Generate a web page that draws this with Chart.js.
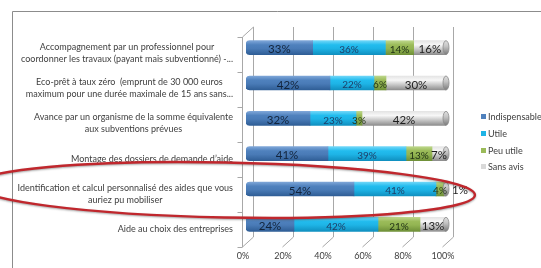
<!DOCTYPE html>
<html><head><meta charset="utf-8">
<script src="https://cdn.jsdelivr.net/npm/chart.js@4"></script>
<style>html,body{margin:0;padding:0;background:#fff;}canvas{display:block}</style>
</head><body>
<canvas id="c" width="541" height="268"></canvas>
<script>
const categories = [
  ["Accompagnement par un professionnel pour", "coordonner les travaux (payant mais subventionné) -..."],
  ["Eco-prêt à taux zéro  (emprunt de 30 000 euros", "maximum pour une durée maximale de 15 ans sans..."],
  ["Avance par un organisme de la somme équivalente", "aux subventions prévues"],
  ["Montage des dossiers de demande d’aide"],
  ["Identification et calcul personnalisé des aides que vous", "auriez pu mobiliser"],
  ["Aide au choix des entreprises"]
];
const seriesNames = ["Indispensable", "Utile", "Peu utile", "Sans avis"];
const indispensable = [33, 42, 32, 41, 54, 24];
const utile = [36, 22, 23, 39, 41, 42];
const peuUtile = [14, 6, 3, 13, 4, 21];
const sansAvis = [16, 30, 42, 7, 1, 13];
const xTicks = [0, 20, 40, 60, 80, 100];

const raw = [indispensable, utile, peuUtile, sansAvis];
// 100% stacked: normalise each row
const totals = categories.map((_, i) => raw.reduce((s, a) => s + a[i], 0));
const norm = raw.map(a => a.map((v, i) => v / totals[i] * 100));

const palettes = [
  ['#7ea6d8', '#4f81bd', '#4a7bb7', '#2f5e96'],
  ['#6fd6f8', '#22bcee', '#1eb4e6', '#1090c0'],
  ['#bcd68a', '#9bbb59', '#93b552', '#6f9038'],
  ['#e4e4e4', '#f7f7f7', '#d2d2d2', '#8e8e8e']
];
const legendColors = ['#4f81bd', '#1eb4e6', '#9bbb59', '#d9d9d9'];
const labelColors = ['#12243c', '#1d3f68', '#233416', '#1e1e1e'];
const labelSizes = [11.5, 10, 10, 11.5];
const FONT = 'Lato';

function makeGrad(ctx, k) {
  const p = palettes[k];
  const c = ctx.chart;
  const ys = c.scales && c.scales.y;
  if (!ys || ctx.type !== 'data' || ys.top === undefined) return p[2];
  const yc = ys.getPixelForValue(ctx.dataIndex);
  const g = c.ctx.createLinearGradient(0, yc - 7, 0, yc + 7);
  g.addColorStop(0, p[0]);
  g.addColorStop(0.3, p[1]);
  g.addColorStop(0.55, p[2]);
  g.addColorStop(1, p[3]);
  return g;
}

const datasets = seriesNames.map((name, k) => ({
  label: name,
  data: norm[k],
  backgroundColor: ctx => makeGrad(ctx, k),
  borderWidth: 0,
  borderSkipped: false,
  borderRadius: k === 0 ? {topLeft: 4, bottomLeft: 4, topRight: 0, bottomRight: 0} : 0,
  barThickness: 14
}));

const frame = {
  id: 'frame',
  beforeDraw(chart) {
    const c = chart.ctx;
    c.save();
    c.fillStyle = '#fff';
    c.fillRect(0, 0, chart.width, chart.height);
    c.strokeStyle = '#8c8c8c';
    c.lineWidth = 1;
    c.beginPath();
    c.moveTo(12.5, chart.height + 2);
    c.lineTo(12.5, 11.5);
    c.lineTo(chart.width + 2, 11.5);
    c.stroke();
    c.restore();
  },
  beforeDatasetsDraw(chart) {
    const c = chart.ctx, xs = chart.scales.x, a = chart.chartArea;
    const backTop = a.top - 3, backBot = a.bottom - 5, frontBot = a.bottom + 5;
    c.save();
    c.strokeStyle = '#a8a8a8';
    c.lineWidth = 1;
    c.beginPath();
    xTicks.forEach(v => {
      const bx = Math.round(xs.getPixelForValue(v) + 7) + 0.5;
      const fx = Math.round(xs.getPixelForValue(v) - 4) + 0.5;
      c.moveTo(bx, backTop); c.lineTo(bx, backBot);
      c.lineTo(fx, frontBot);
    });
    // left wall
    const lx = Math.round(xs.getPixelForValue(0) - 4) + 0.5;
    const topFront = a.top + 7;
    c.moveTo(lx, frontBot); c.lineTo(lx, topFront);
    c.lineTo(Math.round(xs.getPixelForValue(0) + 7) + 0.5, backTop);
    const n = categories.length;
    for (let k = 0; k <= n; k++) {
      const y = Math.round(topFront + (frontBot - topFront) * k / n) + 0.5;
      c.moveTo(lx - 5, y); c.lineTo(lx, y);
    }
    c.stroke();
    c.restore();
  },
  afterDatasetsDraw(chart) {
    const c = chart.ctx, xs = chart.scales.x, ys = chart.scales.y, a = chart.chartArea;
    c.save();
    // cylinder end caps
    categories.forEach((_, i) => {
      const yc = ys.getPixelForValue(i);
      const xe = xs.getPixelForValue(100);
      const g = c.createLinearGradient(0, yc - 7, 0, yc + 7);
      g.addColorStop(0, '#e0e0e0'); g.addColorStop(0.4, '#c4c4c4'); g.addColorStop(1, '#7a7a7a');
      c.beginPath();
      c.ellipse(xe, yc, 3, 7, 0, 0, Math.PI * 2);
      c.fillStyle = g; c.fill();
      c.strokeStyle = '#8a8a8a'; c.lineWidth = 0.8; c.stroke();
    });
    // value labels
    chart.data.datasets.forEach((ds, k) => {
      const meta = chart.getDatasetMeta(k);
      meta.data.forEach((el, i) => {
        const v = raw[k][i];
        const txt = v + '%';
        c.font = labelSizes[k] + 'px ' + FONT;
        const segW = Math.abs(el.x - el.base);
        c.fillStyle = labelColors[k];
        c.textBaseline = 'middle';
        if (segW < 4) {
          c.textAlign = 'left';
          c.fillStyle = '#1e1e1e';
          c.fillText(txt, a.right + 6, el.y + 1);
        } else {
          c.textAlign = 'center';
          c.fillText(txt, (el.x + el.base) / 2, el.y + 2);
        }
      });
    });
    c.restore();
  },
  afterDraw(chart) {
    const c = chart.ctx, ys = chart.scales.y;
    c.save();
    // category labels
    c.font = '9px ' + FONT;
    c.fillStyle = '#404040';
    c.textBaseline = 'middle';
    c.textAlign = 'center';
    categories.forEach((lines, i) => {
      const yc = ys.getPixelForValue(i) + 5;
      const bw = Math.max(...lines.map(l => c.measureText(l).width));
      const cx = 233 - bw / 2;
      lines.forEach((l, j) => {
        c.fillText(l, cx, yc + (j - (lines.length - 1) / 2) * 12);
      });
    });
    // legend
    const ly = [117, 134, 151, 167];
    c.textAlign = 'left';
    chart.data.datasets.forEach((ds, k) => {
      c.fillStyle = legendColors[k];
      c.fillRect(481, ly[k] - 3, 5, 5);
      c.fillStyle = '#404040';
      c.font = '9px ' + FONT;
      c.fillText(ds.label, 488, ly[k]);
    });
    // red hand-drawn ellipse annotation
    c.beginPath();
    c.ellipse(225, 190, 250, 27.5, 0.02, 0, Math.PI * 2);
    c.strokeStyle = '#c0272d';
    c.lineWidth = 2.4;
    c.shadowColor = 'rgba(0,0,0,0.35)';
    c.shadowBlur = 2;
    c.shadowOffsetY = 1;
    c.stroke();
    c.restore();
  }
};

new Chart(document.getElementById('c'), {
  type: 'bar',
  data: { labels: categories, datasets },
  options: {
    indexAxis: 'y',
    responsive: false,
    devicePixelRatio: 1,
    animation: false,
    layout: { padding: { top: 30, right: 95, bottom: 0, left: 0 } },
    plugins: { legend: { display: false }, tooltip: { enabled: false } },
    scales: {
      x: {
        stacked: true, min: 0, max: 100,
        afterBuildTicks: s => { s.ticks = xTicks.map(v => ({ value: v })); },
        ticks: { callback: v => v + '%', font: { family: FONT, size: 9 }, color: '#404040', labelOffset: -3, padding: 9, maxRotation: 0, autoSkip: false },
        grid: { display: false, drawTicks: false },
        border: { display: false },
        afterFit: s => { s.height = 26; }
      },
      y: {
        stacked: true,
        ticks: { display: false },
        grid: { display: false, drawTicks: false },
        border: { display: false },
        afterFit: s => { s.width = 246; }
      }
    }
  },
  plugins: [frame]
});
</script>
</body></html>
